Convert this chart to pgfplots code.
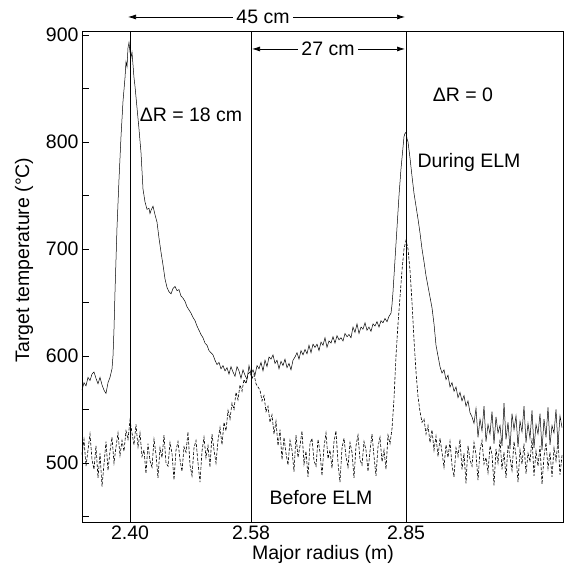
\documentclass[border=0pt]{standalone}
\usepackage{fontspec}
\setmainfont{Liberation Sans}
\usepackage{pgfplots}
\pgfplotsset{compat=1.18}
\usetikzlibrary{arrows.meta}
\newcommand\fs{\fontsize{19.5pt}{23pt}\selectfont}
\begin{document}
\begin{tikzpicture}
\path[use as bounding box] (-82pt,-47pt) rectangle (482pt,522pt);
\begin{axis}[
  scale only axis, width=481pt, height=491pt, at={(0,0)}, anchor=south west,
  xmin=82, xmax=563, ymin=444.8, ymax=903.7,
  xtick={130,251,406}, xticklabels={2.40,2.58,2.85},
  ytick={500,600,700,800,900}, minor ytick={450,550,650,750,850},
  tick align=inside, xtick pos=bottom, ytick pos=left,
  major tick length=7pt, minor tick length=7pt,
  /pgf/number format/assume math mode=true,
  tick label style={font=\fs}, label style={font=\fs},
  axis line style={line width=0.8pt}, tick style={line width=0.7pt, black},
  clip=false,
  xlabel={Major radius (m)},
  xlabel style={at={(axis description cs:0.501,-0.067)}, anchor=center},
  ylabel={Target temperature (°C)},
  ylabel style={at={(axis description cs:-0.1206,0.5336)}, anchor=center, rotate=0},
]
% reference lines
\addplot[black, line width=0.8pt] coordinates {(130,444.8) (130,903.7)};
\addplot[black, line width=0.8pt] coordinates {(251,444.8) (251,903.7)};
\addplot[black, line width=0.8pt] coordinates {(406,444.8) (406,903.7)};
% Before ELM (dashed, noisy)
\addplot[black, line width=0.6pt, dash pattern=on 3pt off 1.6pt] table {
x y
82 508
84 522
86 497
88 512
90 527
92 503
94 494
96 516
98 486
100 509
102 478
104 499
106 520
108 493
110 511
112 524
114 500
116 515
118 528
120 507
122 521
124 511
126 530
128 522
130 540
132 528
134 517
136 536
138 515
140 528
142 506
144 512
146 490
148 518
150 502
152 496
154 522
156 508
158 486
160 514
162 505
164 526
166 500
168 497
170 519
172 509
174 484
176 512
178 520
180 503
182 492
184 515
186 510
188 529
190 498
192 488
194 514
196 521
198 500
200 482
202 511
204 524
206 505
208 516
210 496
212 527
214 512
216 500
218 521
220 533
222 517
224 538
226 530
228 549
230 541
232 556
234 550
236 566
238 559
240 573
242 567
244 578
246 574
248 583
250 585
252 579
254 583
256 574
258 571
260 568
262 558
264 563
266 548
268 553
270 538
272 545
274 527
276 539
278 516
280 531
282 503
284 524
286 509
288 498
290 521
292 512
294 492
296 526
298 505
300 516
302 530
304 499
306 511
308 487
310 518
312 523
314 502
316 497
318 522
320 510
322 488
324 515
326 528
328 504
330 512
332 495
334 520
336 530
338 500
340 482
342 514
344 523
346 506
348 496
350 519
352 510
354 486
356 516
358 526
360 503
362 498
364 520
366 512
368 492
370 511
372 527
374 506
376 488
378 515
380 524
382 501
384 512
386 494
388 526
390 518
392 532
394 560
396 600
398 630
400 655
402 680
404 700
406 708
408 700
410 680
412 650
414 615
416 585
418 562
420 548
422 538
424 541
426 527
428 535
430 519
432 531
434 512
436 525
438 506
440 523
442 510
444 496
446 517
448 505
450 520
452 498
454 487
456 514
458 506
460 522
462 494
464 509
466 481
468 516
470 503
472 497
474 519
476 508
478 484
480 512
482 521
484 499
486 505
488 491
490 516
492 508
494 479
496 513
498 500
500 522
502 494
504 510
506 486
508 517
510 505
512 493
514 520
516 507
518 482
520 512
522 499
524 518
526 490
528 509
530 501
532 523
534 488
536 511
538 497
540 516
542 480
544 506
546 519
548 495
550 510
552 487
554 514
556 502
558 521
560 489
562 507
};
% During ELM (solid, noisy)
\addplot[black, line width=0.5pt] table {
x y
82 568
84 575
86 572
88 580
90 577
92 583
94 585
96 579
98 574
100 580
102 573
104 568
106 565
108 575
110 580
112 588
113 600
114 625
115 660
116 690
117 720
119 765
121 805
123 838
125 860
126 875
127 870
128 888
129 893
130 884
131 879
132 884
133 872
134 860
135 852
137 832
139 812
141 790
143 756
145 744
147 737
149 738
150 733
151 736
153 740
155 732
157 725
159 710
161 697
163 685
165 672
167 664
169 660
171 658
173 663
175 665
177 661
179 662
181 656
183 654
185 651
187 646
189 643
191 640
193 636
195 633
197 628
199 624
201 620
203 617
205 612
207 610
209 605
211 603
213 601
215 596
217 592
219 594
221 588
223 591
225 586
227 589
229 583
231 590
233 585
235 581
237 590
239 586
241 579
243 587
245 582
247 578
249 591
251 583
253 587
255 582
257 591
259 588
261 594
263 586
265 596
267 590
269 599
271 597
273 601
275 593
277 596
279 588
281 595
283 591
285 597
287 589
289 593
291 587
293 596
295 599
297 603
299 597
301 605
303 601
305 606
307 602
309 610
311 603
313 611
315 608
317 611
319 605
321 613
323 610
325 617
327 608
329 614
331 612
333 618
335 612
337 619
339 615
341 617
343 614
345 621
347 618
349 620
351 617
353 627
355 622
357 630
359 621
361 627
363 625
365 631
367 624
369 627
371 623
373 630
375 628
377 632
379 627
381 633
383 631
385 635
387 632
389 637
391 640
392 648
393 660
395 690
397 720
399 750
401 775
403 795
404 805
405 808
406 809
407 803
408 800
410 785
412 768
414 752
416 740
418 728
420 715
422 700
424 688
426 675
428 665
430 655
432 645
434 630
436 610
438 600
440 590
442 584
444 587
446 578
448 582
450 571
452 575
454 567
456 571
458 561
460 566
462 558
464 563
466 553
468 558
470 547
472 543
474 537
476 551
478 524
480 541
482 530
484 553
486 520
488 536
490 527
492 548
494 518
496 543
498 528
500 535
502 516
504 556
506 522
508 538
510 513
512 546
514 531
516 544
518 515
520 539
522 529
524 553
526 519
528 537
530 523
532 549
534 514
536 536
538 527
540 546
542 512
544 541
546 524
548 552
550 517
552 535
554 528
556 550
558 516
560 544
562 533
};
% annotations
\node[font=\fs] at (axis cs:191,825) {ΔR = 18 cm};
\node[font=\fs] at (axis cs:463,844) {ΔR = 0};
\node[font=\fs] at (axis cs:469,781) {During ELM};
\node[font=\fs] at (axis cs:321,468) {Before ELM};
\draw[line width=0.7pt, {Latex[length=8pt,width=5pt]}-{Latex[length=8pt,width=5pt]}] (axis cs:128,916.8) -- (axis cs:405,916.8);
\node[font=\fs, fill=white, inner sep=3pt] at (axis cs:263,916.8) {45 cm};
\draw[line width=0.7pt, {Latex[length=8pt,width=5pt]}-{Latex[length=8pt,width=5pt]}] (axis cs:252,886.9) -- (axis cs:405,886.9);
\node[font=\fs, fill=white, inner sep=3pt] at (axis cs:328,886.9) {27 cm};
\end{axis}
\end{tikzpicture}
\end{document}
